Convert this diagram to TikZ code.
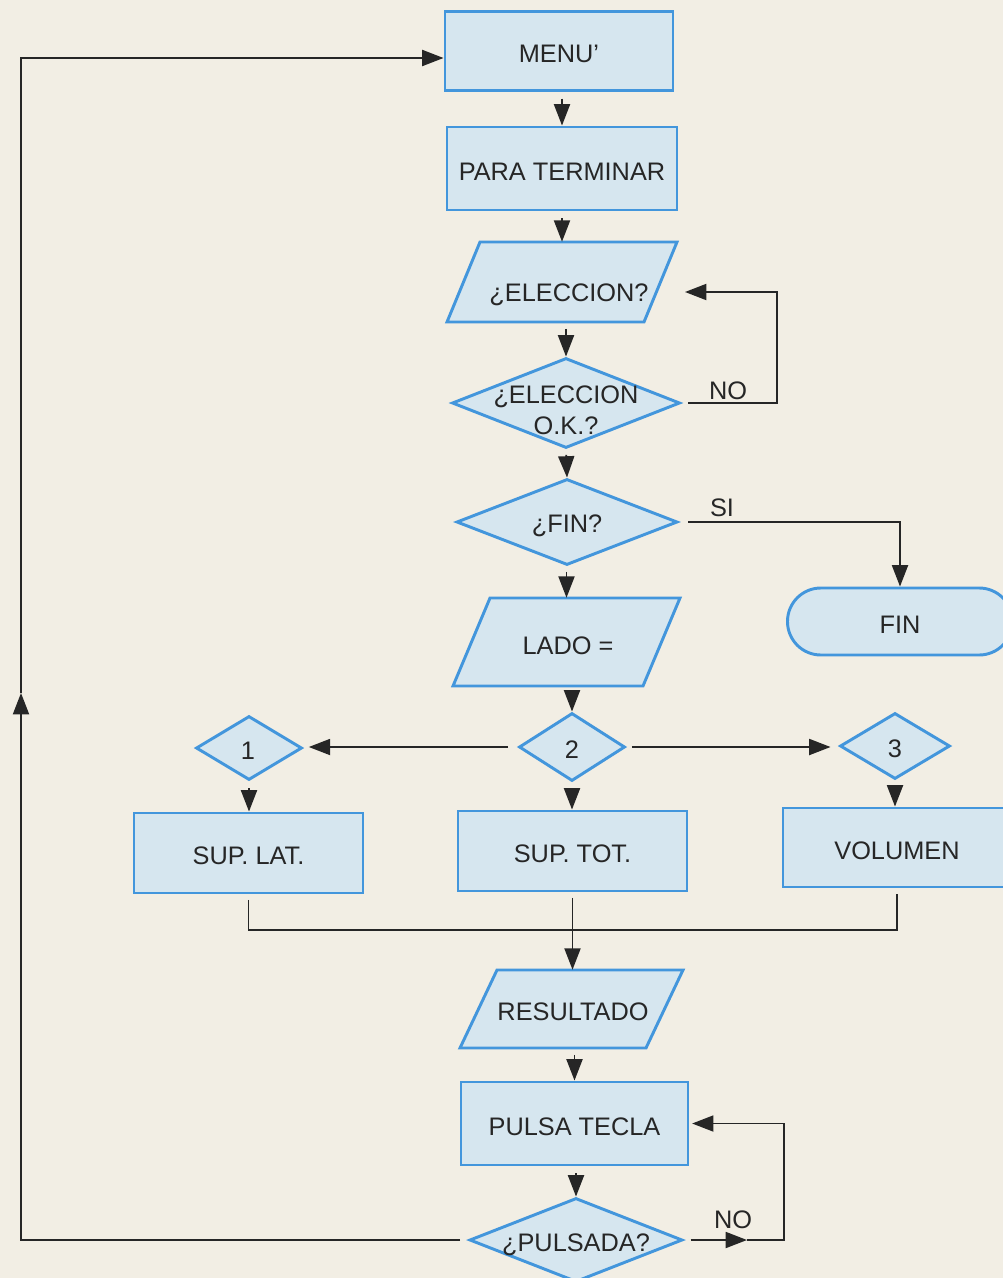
\documentclass[tikz,border=0pt]{standalone}
\usepackage{fontspec}
\setmainfont{Liberation Sans}
\usetikzlibrary{arrows.meta,shapes.geometric}
\definecolor{bgcol}{HTML}{F2EEE4}
\definecolor{bblue}{HTML}{4396DC}
\definecolor{bfill}{HTML}{D6E6EF}
\definecolor{ink}{HTML}{262626}
\begin{document}
\begin{tikzpicture}[x=0.75pt,y=-0.75pt,
  box/.style={draw=bblue, line width=2.2pt, fill=bfill, inner sep=0pt},
  rbox/.style={box, rectangle, text height=17.5pt, text depth=0pt},
  dbox/.style={box, diamond},
  txt/.style={text=ink, font=\fontsize{19}{23.5}\selectfont, align=center, inner sep=0pt},
  ptxt/.style={txt, text height=13.6pt, text depth=0pt},
  hold/.style={rectangle, inner sep=0pt, draw=none},
  conn/.style={draw=ink, line width=1.4pt},
  arr/.style={conn, -{Triangle[length=16pt,width=12pt]}}
]
\useasboundingbox (0,0) rectangle (1003,1278);
\clip (0,0) rectangle (1003,1278);
\fill[bgcol] (0,0) rectangle (1003,1278);

% main column
\node[rbox, txt, minimum width=171pt, minimum height=59.25pt] (menu) at (559,51) {MENU’};
\node[rbox, txt, minimum width=172.5pt, minimum height=62.25pt] (para) at (562,168.5) {PARA TERMINAR};

\filldraw[box] (447,322) -- (480,242) -- (677,242) -- (644,322) -- cycle;
\node[hold, minimum width=172.5pt, minimum height=60pt] (elec) at (562,282) {};
\node[ptxt] (elect) at (569,292) {¿ELECCION?};

\node[dbox, minimum width=171pt, minimum height=67.5pt] (dok) at (566,403) {};
\node[txt] (dokt) at (566,410) {¿ELECCION\\O.K.?};

\node[dbox, minimum width=165.75pt, minimum height=64.5pt] (dfin) at (567,522) {};
\node[ptxt] (dfint) at (567,523) {¿FIN?};

\node[box, rectangle, rounded corners=25pt, txt, text height=17.5pt, text depth=0pt, minimum width=168.75pt, minimum height=50.25pt] (term) at (900,621.5) {FIN};

\filldraw[box] (453,686) -- (490,598) -- (680,598) -- (643,686) -- cycle;
\node[hold, minimum width=170.25pt, minimum height=66pt] (lado) at (566.5,642) {};
\node[ptxt] (ladot) at (568,645) {LADO =};

\node[dbox, minimum width=79.5pt, minimum height=48pt] (d1) at (249,748) {};
\node[ptxt] (d1t) at (248,750) {1};
\node[dbox, minimum width=79.5pt, minimum height=51pt] (d2) at (572,747) {};
\node[ptxt] (d2t) at (572,749) {2};
\node[dbox, minimum width=82.5pt, minimum height=49.5pt] (d3) at (895,746) {};
\node[ptxt] (d3t) at (895,748) {3};

\node[rbox, txt, minimum width=171.75pt, minimum height=60pt] (lat) at (248.5,853) {SUP. LAT.};
\node[rbox, txt, minimum width=171.75pt, minimum height=60pt] (tot) at (572.5,851) {SUP. TOT.};
\node[rbox, txt, minimum width=171pt, minimum height=59.25pt] (vol) at (897,847.5) {VOLUMEN};

\filldraw[box] (460,1048) -- (497,970) -- (683,970) -- (646,1048) -- cycle;
\node[hold, minimum width=167.25pt, minimum height=58.5pt] (res) at (571.5,1009) {};
\node[ptxt] (rest) at (573,1011) {RESULTADO};

\node[rbox, txt, minimum width=170.25pt, minimum height=62.25pt] (pulsa) at (574.5,1123.5) {PULSA TECLA};

\node[dbox, minimum width=159.75pt, minimum height=63pt] (pul) at (576,1240) {};
\node[ptxt] (pult) at (576,1242) {¿PULSADA?};

% labels
\node[ptxt] (lno1) at (728,390) {NO};
\node[ptxt] (lsi) at (722,507) {SI};
\node[ptxt] (lno2) at (733,1219) {NO};

% vertical connectors
\draw[arr, shorten <=5pt] (menu.south -| para.north) -- (para.north);
\draw[arr, shorten <=5pt] (para.south -| elec.north) -- (elec.north);
\draw[arr, shorten <=5pt] (elec.south -| dok.north) -- (dok.north);
\draw[arr, shorten <=4pt] (dok.south) -- (dfin.north);
\draw[arr, shorten <=4pt] (dfin.south -| lado.north) -- (lado.north);
\draw[arr, shorten <=4pt] (lado.south -| d2.north) -- (d2.north);
\draw[arr, shorten <=5pt] (d2.south) -- (d2.south |- tot.north);
\draw[arr, shorten <=5pt] (d1.south) -- (d1.south |- lat.north);
\draw[arr, shorten <=5pt] (d3.south) -- (d3.south |- vol.north);
\draw[arr, shorten <=4pt] (tot.south) -- (tot.south |- res.north);
\draw[arr, shorten <=5pt] (res.south -| pulsa.north) -- (pulsa.north);
\draw[arr, shorten <=5pt] (pulsa.south -| pul.north) -- (pul.north);

% branches
\draw[arr, shorten <=7pt, shorten >=4pt] (d2.west) -- (d2.west -| d1.east);
\draw[arr, shorten <=4pt, shorten >=6pt] (d2.east) -- (d2.east -| d3.west);

% collector
\coordinate (cj) at (572.5,930);
\draw[conn, shorten <=4pt, shorten >=4pt] (lat.south) |- (cj) -| (vol.south);

% NO loop top
\coordinate (noT) at (777,292);
\coordinate (noE) at (685,292);
\draw[arr, shorten <=5pt] (dok.east) -| (noT) -- (noE);

% SI
\draw[arr, shorten <=7pt] (dfin.east) -| (term.north);

% NO loop bottom
\coordinate (nm) at (747,1240);
\coordinate (nb) at (784,1240);
\draw[arr, shorten <=5pt] (pul.east) -- (nm);
\draw[arr, shorten >=2pt] (nm) -- (nb) |- (pulsa.east);

% left return loop
\coordinate (lm) at (21,693);
\coordinate (lt) at (21,58);
\draw[arr, shorten <=6pt] (pul.west) -| (lm);
\draw[arr] (lm) -- (lt) -- (lt -| menu.west);
\end{tikzpicture}
\end{document}
